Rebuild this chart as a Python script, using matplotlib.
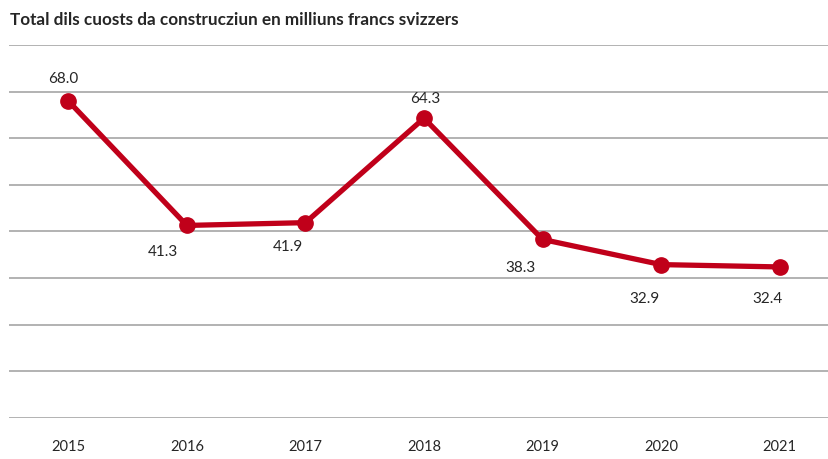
import matplotlib.pyplot as plt
import numpy as np

years = ["2015", "2016", "2017", "2018", "2019", "2020", "2021"]
costs = [68.0, 41.3, 41.9, 64.3, 38.3, 32.9, 32.4]
# label offsets in pixels (dx, dy) relative to each point
label_offsets = [(-5, 22), (-24, -27), (-18, -24), (1, 19), (-22, -29), (-17, -34), (-12, -32)]

plt.rcParams["font.family"] = ["Lato", "DejaVu Sans"]

fig = plt.figure(figsize=(8.29, 4.59), dpi=100)
ax = fig.add_axes([9 / 829, 41 / 459, 830 / 829, 373 / 459])

x = np.arange(len(years))
ax.plot(x, costs, color="#C0001A", linewidth=3.8, marker="o", markersize=11,
        solid_capstyle="round", zorder=3)

for xi, val, (dx, dy) in zip(x, costs, label_offsets):
    ax.annotate(f"{val:.1f}", (xi, val), xytext=(dx * 0.72, dy * 0.72),
                textcoords="offset points", ha="center", va="center",
                fontsize=11, color="#262626")

ax.set_xlim(-0.5, 6.5)
ax.set_ylim(0, 80)
ax.set_yticks(np.arange(0, 81, 10))
ax.set_yticklabels([])
ax.tick_params(axis="y", length=0)
ax.grid(axis="y", color="#A6A6A6", linewidth=1.2)
ax.set_axisbelow(True)
ax.set_xticks(x)
ax.set_xticklabels(years, fontsize=10.5, color="#262626")
ax.tick_params(axis="x", length=0, pad=16)
for s in ax.spines.values():
    s.set_visible(False)

fig.text(10 / 829, 1 - 20 / 459, "Total dils cuosts da construcziun en milliuns francs svizzers",
         fontsize=12.3, fontweight="bold", color="#262626", va="center", ha="left")

fig.savefig("out.png", dpi=100)
